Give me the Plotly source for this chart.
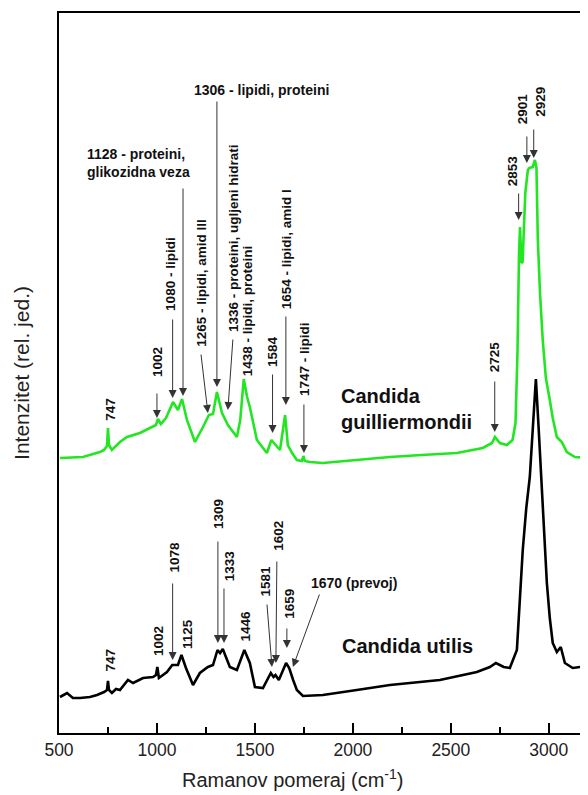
import plotly.graph_objects as go

# ---------------- data ----------------
# Candida guilliermondii (green, upper spectrum)
guill_wn = [505, 622, 709, 730, 745, 750, 755, 770, 811, 847, 913, 980, 995, 1005, 1020,
            1046, 1066, 1082, 1107, 1128, 1153, 1194, 1235, 1265, 1286, 1306, 1332, 1362,
            1408, 1425, 1443, 1460, 1474, 1510, 1561, 1584, 1610, 1628, 1654, 1668, 1690,
            1714, 1740, 1747, 1755, 1780, 1847, 2000, 2189, 2350, 2531, 2663, 2710, 2725,
            2750, 2786, 2815, 2830, 2840, 2848, 2853, 2860, 2866, 2880, 2893, 2901, 2918,
            2929, 2937, 2944, 2955, 2969, 2985, 3005, 3020, 3041, 3055, 3066, 3092, 3133, 3200]
guill_int = [275, 276, 281, 283, 287, 305, 288, 283, 291, 296, 300, 306, 308, 314, 309,
             315, 323, 331, 323, 334, 313, 291, 306, 318, 319, 341, 320, 308,
             296, 313, 354, 336, 326, 293, 280, 293, 287, 283, 318, 288, 280,
             273, 272, 277, 272, 271, 270, 273, 276, 278, 280, 285, 290, 296,
             290, 288, 293, 310, 380, 480, 506, 471, 470, 540, 563, 565, 566,
             573, 565, 493, 440, 393, 355, 333, 315, 296, 293, 291, 281, 276, 275]

# Candida utilis (black, lower spectrum)
util_wn = [505, 541, 571, 607, 658, 694, 730, 745, 750, 755, 770, 791, 811, 852, 878, 929,
           980, 995, 1002, 1010, 1051, 1078, 1107, 1125, 1148, 1184, 1219, 1260, 1286, 1309,
           1322, 1336, 1372, 1408, 1446, 1474, 1500, 1541, 1581, 1595, 1605, 1622, 1659,
           1675, 1695, 1714, 1745, 1847, 2020, 2189, 2444, 2633, 2699, 2730, 2770, 2801,
           2837, 2852, 2867, 2885, 2903, 2920, 2934, 2948, 2964, 2978, 2990, 3005, 3020,
           3041, 3061, 3082, 3122, 3194]
util_int = [36, 40, 35, 35, 36, 38, 41, 43, 52, 43, 40, 44, 43, 53, 50, 55,
            56, 58, 66, 55, 61, 68, 68, 78, 65, 48, 60, 66, 68, 83,
            80, 84, 66, 63, 83, 70, 46, 45, 60, 56, 58, 53, 70,
            65, 53, 43, 37, 38, 43, 48, 53, 61, 66, 70, 66, 65,
            83, 130, 183, 225, 256, 310, 354, 305, 250, 200, 150, 115, 90,
            81, 86, 70, 65, 67]

x_ticks = [500, 1000, 1500, 2000, 2500, 3000]

# rotated peak labels: (text, wavenumber, intensity at text start)
rot_labels = [
    ("747", 762, 311), ("1002", 1000, 355), ("1080 - lipidi", 1066, 421),
    ("1265 - lipidi, amid III", 1224, 385), ("1336 - proteini, ugljeni hidrati", 1388, 400),
    ("1438 - lipidi, proteini", 1464, 356), ("1584", 1590, 365),
    ("1654 - lipidi, amid I", 1660, 423), ("1747 - lipidi", 1750, 336),
    ("2725", 2724, 360), ("2853", 2816, 546), ("2901", 2867, 608), ("2929", 2954, 615),
    ("747", 765, 61), ("1002", 1005, 76), ("1078", 1092, 160), ("1125", 1153, 83),
    ("1309", 1311, 203), ("1333", 1372, 151), ("1446", 1454, 91), ("1581", 1556, 136),
    ("1602", 1617, 181), ("1659", 1673, 113),
]

# horizontal labels: (text, wavenumber of left edge, intensity of centre, size)
flat_labels = [
    ("1128 - proteini,<br>glikozidna veza", 638, 570, 14),
    ("1306 - lipidi, proteini", 1184, 643, 14),
    ("1670 (prevoj)", 1781, 150, 14),
    ("Candida<br>guilliermondii", 1934, 324, 20),
    ("Candida utilis", 1941, 87, 20),
]

# arrows: (tail wn, tail intensity, head wn, head intensity)
arrows = [
    (1000, 341, 1000, 315), (1080, 415, 1080, 335), (1133, 546, 1133, 337),
    (1224, 380, 1260, 320), (1306, 633, 1306, 346), (1388, 395, 1362, 323),
    (1590, 360, 1590, 300), (1658, 418, 1658, 328), (1750, 330, 1750, 280),
    (2724, 353, 2724, 301), (2846, 541, 2846, 513), (2888, 598, 2888, 570),
    (2923, 605, 2923, 575),
    (1080, 151, 1080, 73), (1311, 193, 1311, 90), (1342, 146, 1342, 90),
    (1561, 130, 1587, 66), (1612, 173, 1607, 70), (1663, 106, 1663, 85),
    (1832, 140, 1694, 66),
]

FONT = "Liberation Sans, Arial, sans-serif"

fig = go.Figure()
fig.add_trace(go.Scatter(x=guill_wn, y=guill_int, mode="lines", name="Candida guilliermondii",
                         line=dict(color="#22e622", width=2.6), showlegend=False))
fig.add_trace(go.Scatter(x=util_wn, y=util_int, mode="lines", name="Candida utilis",
                         line=dict(color="#000000", width=2.6), showlegend=False))

annotations = []
for txt, wn, inten in rot_labels:
    annotations.append(dict(x=wn, y=inten, xref="x", yref="y", text=txt, showarrow=False,
                            textangle=-90, xanchor="center", yanchor="bottom",
                            font=dict(family=FONT, size=13.5, color="#111111", weight="bold"),
                            borderpad=0))
for txt, wn, inten, sz in flat_labels:
    annotations.append(dict(x=wn, y=inten, xref="x", yref="y", text=txt, showarrow=False,
                            xanchor="left", yanchor="middle", align="left",
                            font=dict(family=FONT, size=sz, color="#111111", weight="bold"),
                            borderpad=0))
for tx, ty, hx, hy in arrows:
    annotations.append(dict(x=hx, y=hy, xref="x", yref="y", ax=tx, ay=ty, axref="x", ayref="y",
                            text="", showarrow=True, arrowhead=2, arrowsize=1.6, arrowwidth=1,
                            arrowcolor="#333333", standoff=0, startstandoff=0))
# x-axis title (centred on the full original axis, which is cropped on the right)
annotations.append(dict(x=0.442, y=-0.0625, xref="paper", yref="paper",
                        text="Ramanov pomeraj (cm<sup>-1</sup>)", showarrow=False,
                        xanchor="center", yanchor="middle",
                        font=dict(family=FONT, size=20, color="#222222")))

# the page body adds an 8 px offset, so the figure is 8 px smaller and margins shifted
fig.update_layout(
    width=580, height=787,
    margin=dict(l=51, r=0, t=5, b=62),
    paper_bgcolor="white", plot_bgcolor="white",
    annotations=annotations,
    xaxis=dict(range=[500, 3200], tickvals=x_ticks, ticktext=[str(v) for v in x_ticks],
               showline=True, linecolor="black", linewidth=2, mirror=True,
               ticks="inside", ticklen=10, tickwidth=1.5, tickcolor="black",
               tickfont=dict(family=FONT, size=17.5, color="#222222"),
               minor=dict(tickvals=[750, 1250, 1750, 2250, 2750], ticks="inside",
                          ticklen=6, tickwidth=1.5, tickcolor="black"),
               showgrid=False, zeroline=False),
    yaxis=dict(range=[0, 720], showline=True, linecolor="black", linewidth=2,
               showticklabels=False, ticks="", showgrid=False, zeroline=False,
               title=dict(text="Intenzitet (rel. jed.)", standoff=22,
                          font=dict(family=FONT, size=21, color="#222222"))),
)

fig.write_html("out.html")
